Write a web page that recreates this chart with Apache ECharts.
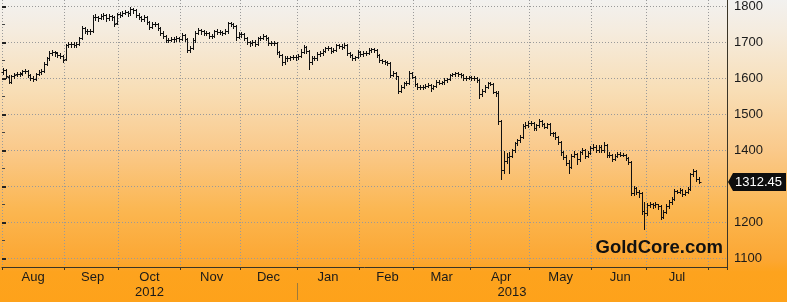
<!DOCTYPE html>
<html><head><meta charset="utf-8">
<script src="https://cdn.jsdelivr.net/npm/echarts@6/dist/echarts.min.js"></script>
<style>
html,body{margin:0;padding:0;background:#fff;}
#c{width:787px;height:302px;background:linear-gradient(to bottom,#f2f1ef 0%,#f5ecdf 10%,#f8deb6 30%,#fac98a 50%,#fbb650 70%,#fca733 86%,#fda31e 90%,#fea21a 100%);}
</style>
</head><body><div id="c"></div>
<script>
// ---- Data (Gold spot, daily OHLC, Aug 2012 - Jul 2013) ----
const firstDay = [2012, 7, 1];   // 1 Aug 2012 (UTC, month 0-based)
const lastDay  = [2013, 7, 9];   // axis runs on to 9 Aug 2013
const monthNames = ['Jan','Feb','Mar','Apr','May','Jun','Jul','Aug','Sep','Oct','Nov','Dec'];
const yearLabels = ['2012','2013'];
const yTickLabels = [1100,1200,1300,1400,1500,1600,1700,1800];
const lastValue = 1312.45;

const opens = [1618,1622,1604,1591,1605,1611,1612,1614,1619,1620,1608,1601,1598,1612,1618,1621,1640,1656,1670,1673,
1671,1665,1661,1653,1692,1694,1695,1693,1696,1712,1740,1732,1730,1731,1771,1770,1768,1772,1775,1767,
1773,1769,1753,1778,1776,1782,1784,1780,1792,1789,1776,1771,1764,1771,1757,1743,1751,1751,1740,1726,
1717,1705,1707,1710,1708,1711,1709,1720,1709,1679,1684,1706,1726,1734,1730,1727,1726,1717,1718,1730,
1729,1728,1727,1730,1753,1750,1745,1715,1724,1722,1711,1700,1697,1702,1695,1711,1713,1717,1711,1697,
1697,1699,1672,1665,1644,1656,1655,1659,1660,1658,1662,1674,1687,1676,1645,1656,1656,1668,1670,1677,
1683,1684,1677,1679,1692,1690,1688,1692,1670,1665,1656,1658,1674,1667,1670,1671,1679,1680,1678,1665,
1650,1649,1646,1642,1609,1614,1605,1566,1577,1586,1587,1614,1604,1584,1575,1576,1577,1579,1581,1572,
1578,1590,1588,1589,1595,1598,1609,1611,1614,1612,1609,1600,1602,1603,1600,1601,1596,1556,1565,1577,
1587,1585,1563,1560,1480,1345,1370,1382,1385,1400,1420,1428,1438,1468,1470,1477,1476,1461,1470,1482,
1473,1466,1473,1447,1448,1438,1424,1394,1382,1366,1354,1385,1390,1375,1395,1400,1385,1393,1406,1410,
1400,1410,1400,1415,1387,1387,1376,1385,1390,1388,1388,1378,1368,1281,1295,1284,1281,1230,1225,1248,
1250,1248,1250,1245,1215,1229,1245,1257,1265,1287,1285,1290,1279,1285,1293,1334,1343,1320];

const highs = [1628,1625,1610,1609,1616,1617,1618,1624,1626,1623,1612,1606,1616,1622,1625,1645,1660,1675,1678,1677,
1674,1670,1666,1696,1700,1700,1701,1702,1716,1745,1743,1738,1737,1777,1778,1774,1779,1781,1778,1779,
1777,1772,1782,1784,1788,1790,1787,1797,1796,1792,1780,1774,1776,1774,1760,1755,1757,1754,1743,1730,
1720,1713,1716,1714,1717,1715,1726,1724,1713,1690,1712,1731,1740,1738,1735,1732,1729,1724,1735,1736,
1734,1732,1736,1757,1757,1753,1748,1729,1728,1725,1714,1704,1707,1705,1715,1718,1722,1720,1714,1703,
1704,1702,1676,1668,1661,1661,1663,1664,1664,1667,1680,1693,1690,1679,1661,1662,1673,1675,1682,1688,
1690,1687,1684,1696,1696,1694,1697,1694,1674,1668,1663,1679,1677,1675,1676,1684,1685,1683,1680,1668,
1654,1652,1649,1644,1620,1617,1607,1582,1590,1592,1619,1617,1607,1588,1581,1582,1584,1586,1584,1582,
1594,1594,1593,1600,1602,1613,1616,1618,1617,1615,1611,1606,1607,1606,1605,1604,1598,1569,1582,1590,
1590,1588,1566,1564,1484,1398,1392,1394,1404,1424,1432,1442,1474,1478,1482,1481,1479,1474,1487,1485,
1476,1477,1475,1452,1451,1441,1427,1399,1386,1372,1390,1398,1393,1399,1406,1403,1397,1412,1418,1414,
1416,1414,1423,1418,1394,1391,1390,1395,1394,1393,1391,1382,1371,1302,1299,1290,1284,1256,1254,1256,
1254,1256,1252,1248,1235,1250,1263,1270,1292,1291,1296,1293,1290,1298,1338,1348,1346,1326];

const lows = [1612,1600,1586,1588,1601,1605,1606,1610,1614,1604,1595,1592,1596,1608,1613,1618,1636,1652,1664,1663,
1658,1656,1645,1650,1686,1688,1686,1688,1692,1708,1726,1724,1724,1728,1762,1760,1764,1766,1760,1763,
1762,1745,1750,1770,1772,1778,1774,1777,1782,1770,1765,1758,1760,1752,1738,1740,1744,1734,1720,1711,
1700,1700,1703,1702,1704,1703,1706,1703,1672,1674,1680,1702,1722,1724,1720,1720,1711,1712,1715,1724,
1722,1721,1724,1727,1744,1740,1705,1711,1716,1706,1694,1690,1693,1689,1692,1706,1709,1705,1692,1692,
1693,1667,1660,1636,1640,1649,1651,1654,1652,1654,1658,1670,1670,1626,1640,1650,1652,1663,1666,1673,
1678,1671,1672,1676,1684,1682,1684,1664,1660,1650,1651,1655,1662,1663,1665,1668,1674,1672,1660,1645,
1643,1640,1636,1603,1605,1598,1558,1562,1573,1580,1584,1600,1579,1570,1570,1571,1573,1575,1565,1569,
1575,1583,1583,1585,1591,1595,1605,1607,1607,1604,1596,1596,1598,1595,1596,1591,1546,1550,1561,1573,
1580,1558,1552,1474,1321,1338,1365,1336,1380,1396,1414,1423,1434,1463,1466,1470,1455,1457,1466,1468,
1461,1462,1442,1440,1432,1418,1388,1376,1359,1338,1350,1380,1362,1371,1391,1378,1381,1389,1402,1396,
1396,1395,1396,1381,1382,1370,1372,1381,1383,1383,1372,1362,1275,1277,1278,1271,1222,1180,1220,1242,
1240,1243,1236,1209,1211,1225,1241,1252,1261,1280,1281,1273,1275,1281,1290,1329,1316,1308];

const closes = [1623,1605,1590,1606,1610,1612,1613,1620,1621,1609,1600,1597,1612,1618,1620,1640,1656,1670,1673,1672,
1665,1662,1652,1692,1694,1695,1693,1696,1711,1740,1732,1730,1731,1771,1770,1768,1772,1775,1767,1773,
1770,1752,1778,1776,1782,1784,1780,1792,1790,1776,1771,1764,1771,1757,1743,1751,1752,1740,1726,1717,
1705,1707,1710,1708,1711,1709,1720,1709,1679,1684,1706,1726,1734,1730,1727,1726,1717,1718,1730,1729,
1728,1727,1730,1753,1750,1745,1715,1724,1722,1711,1700,1697,1702,1695,1711,1713,1717,1711,1697,1697,
1699,1672,1665,1644,1656,1655,1659,1660,1658,1662,1674,1687,1676,1645,1656,1656,1668,1670,1677,1683,
1684,1677,1679,1692,1690,1688,1692,1670,1665,1656,1658,1674,1667,1670,1671,1679,1680,1678,1665,1650,
1649,1646,1642,1609,1614,1605,1566,1577,1586,1587,1614,1604,1584,1575,1576,1577,1579,1581,1572,1578,
1590,1588,1589,1595,1598,1609,1611,1614,1612,1609,1600,1602,1603,1600,1601,1596,1556,1565,1577,1587,
1585,1563,1560,1480,1345,1370,1382,1385,1400,1420,1428,1438,1468,1470,1477,1476,1461,1470,1482,1473,
1466,1473,1447,1448,1438,1424,1394,1382,1366,1354,1385,1390,1375,1395,1400,1385,1393,1406,1410,1400,
1410,1400,1415,1387,1387,1376,1385,1390,1388,1388,1378,1368,1281,1295,1284,1281,1230,1225,1248,1250,
1248,1250,1245,1215,1229,1245,1257,1265,1287,1285,1290,1279,1285,1293,1334,1343,1320,1312.45];

// ---- Category axis: trading weekdays ----
const dates = [];
(function(){
  let t = Date.UTC(firstDay[0], firstDay[1], firstDay[2]);
  const end = Date.UTC(lastDay[0], lastDay[1], lastDay[2]);
  while (t <= end) {
    const d = new Date(t);
    const wd = d.getUTCDay();
    if (wd !== 0 && wd !== 6) dates.push(d.toISOString().slice(0, 10));
    t += 86400000;
  }
})();

const monthStart = new Set();
const monthMid = {};
const yearMid = {};
(function(){
  const groups = [];
  dates.forEach((d, i) => {
    const key = d.slice(0, 7);
    if (!groups.length || groups[groups.length - 1].key !== key) { groups.push({key, s: i, n: 0}); monthStart.add(i); }
    groups[groups.length - 1].n++;
  });
  groups.slice(0, groups.length - 1).forEach(g => { monthMid[g.s + Math.floor(g.n / 2)] = monthNames[+g.key.slice(5, 7) - 1]; });
  const ygroups = [];
  dates.forEach((d, i) => {
    const y = d.slice(0, 4);
    if (!ygroups.length || ygroups[ygroups.length - 1].y !== y) ygroups.push({y, s: i, n: 0});
    ygroups[ygroups.length - 1].n++;
  });
  ygroups.forEach(g => { if (yearLabels.indexOf(g.y) >= 0) yearMid[g.s + Math.floor(g.n / 2)] = g.y; });
})();
const janIdx = dates.findIndex(d => d.slice(0, 4) === '2013');

const ohlc = closes.map((c, i) => [i, opens[i], closes[i], lows[i], highs[i]]);

const FONT = 'Liberation Sans';
const chart = echarts.init(document.getElementById('c'), null, {renderer: 'canvas'});

function renderItem(params, api) {
  const i = api.value(0);
  const pO = api.coord([i, api.value(1)]);
  const pC = api.coord([i, api.value(2)]);
  const pL = api.coord([i, api.value(3)]);
  const pH = api.coord([i, api.value(4)]);
  const x = Math.round(pO[0]) + 0.5;
  const t = 2;
  const yo = Math.round(pO[1]) + 0.5, yc = Math.round(pC[1]) + 0.5;
  const style = {stroke: '#111111', lineWidth: 1};
  return {type: 'group', children: [
    {type: 'line', shape: {x1: x, y1: Math.round(pH[1]), x2: x, y2: Math.round(pL[1]) + 1}, style},
    {type: 'line', shape: {x1: x - t, y1: yo, x2: x, y2: yo}, style},
    {type: 'line', shape: {x1: x, y1: yc, x2: x + t, y2: yc}, style}
  ]};
}

const dotted = {color: '#9a9a9a', width: 1, type: [1, 2]};

chart.setOption({
  animation: false,
  backgroundColor: 'transparent',
  textStyle: {fontFamily: FONT},
  grid: [
    {left: 2, right: 60, top: 0, bottom: 35},
    {left: 2, right: 60, top: 6.3, bottom: 43.7}
  ],
  xAxis: [
    {
      gridIndex: 0, type: 'category', data: dates, boundaryGap: true,
      axisLine: {show: true, lineStyle: {color: '#3a3426', width: 1}},
      axisTick: {show: true, length: 3, interval: (i) => monthStart.has(i), lineStyle: {color: '#3a3426'}},
      axisLabel: {show: true, interval: (i) => monthMid[i] !== undefined, formatter: (v, i) => monthMid[i] || '',
        color: '#1a1a1a', fontSize: 13, fontFamily: FONT, margin: 4},
      splitLine: {show: true, interval: (i) => monthStart.has(i), lineStyle: dotted}
    },
    {
      gridIndex: 0, type: 'category', data: dates, boundaryGap: true, position: 'bottom', offset: 16,
      axisLine: {show: false}, axisTick: {show: false}, splitLine: {show: false},
      axisLabel: {show: true, interval: (i) => yearMid[i] !== undefined, formatter: (v, i) => yearMid[i] || '',
        color: '#1a1a1a', fontSize: 13, fontFamily: FONT, margin: 3}
    },
    {gridIndex: 1, type: 'value', show: false, min: 0, max: 1}
  ],
  yAxis: [
    {
      gridIndex: 0, type: 'value', position: 'right', min: 1075.8, max: 1817.5, scale: true,
      axisLine: {show: true, lineStyle: {color: '#3a3426', width: 1}},
      axisTick: {show: false}, axisLabel: {show: false}, splitLine: {show: false}
    },
    {
      gridIndex: 1, type: 'value', position: 'right', min: yTickLabels[0], max: yTickLabels[yTickLabels.length - 1], interval: 100,
      axisLine: {show: false},
      axisTick: {show: true, length: 4, lineStyle: {color: '#222', width: 2}},
      minorTick: {show: true, splitNumber: 2, length: 3, lineStyle: {color: '#444', width: 1}},
      axisLabel: {show: true, color: '#1a1a1a', fontSize: 13, fontFamily: FONT, margin: 7, formatter: (v) => String(v)},
      splitLine: {show: true, lineStyle: dotted}
    }
  ],
  series: [
    {
      type: 'custom', xAxisIndex: 0, yAxisIndex: 0, renderItem, data: ohlc, clip: false,
      encode: {x: 0, y: [1, 2, 3, 4]}, silent: true, z: 5
    }
  ]
});

// last-value tag, year separator, watermark
const c0 = chart.convertToPixel({xAxisIndex: 0}, janIdx);
const c1 = chart.convertToPixel({xAxisIndex: 0}, janIdx + 1);
const xSep = Math.round(c0 - (c1 - c0) / 2) + 0.5;
const yLast = Math.round(chart.convertToPixel({yAxisIndex: 0}, lastValue));
const axisX = chart.convertToPixel({xAxisIndex: 0}, dates.length - 1) + (c1 - c0) / 2;
chart.setOption({
  graphic: [
    {type: 'line', shape: {x1: xSep, y1: 283, x2: xSep, y2: 300}, style: {stroke: '#9c7a3c', lineWidth: 1}, z: 10},
    {type: 'polygon', z: 10, shape: {points: [[axisX + 1, yLast], [axisX + 6, yLast - 9], [786, yLast - 9], [786, yLast + 9], [axisX + 6, yLast + 9]]},
      style: {fill: '#0e0e0e'}},
    {type: 'text', z: 11, x: axisX + 8, y: yLast, style: {text: lastValue.toFixed(2), fill: '#ffffff',
      font: '13px "Liberation Sans"', verticalAlign: 'middle', align: 'left'}},
    {type: 'text', right: 64, top: 238, z: 10,
      style: {text: 'GoldCore.com', font: 'bold 18.5px "Liberation Sans"', fill: '#111111'}}
  ]
});
</script>
</body></html>
